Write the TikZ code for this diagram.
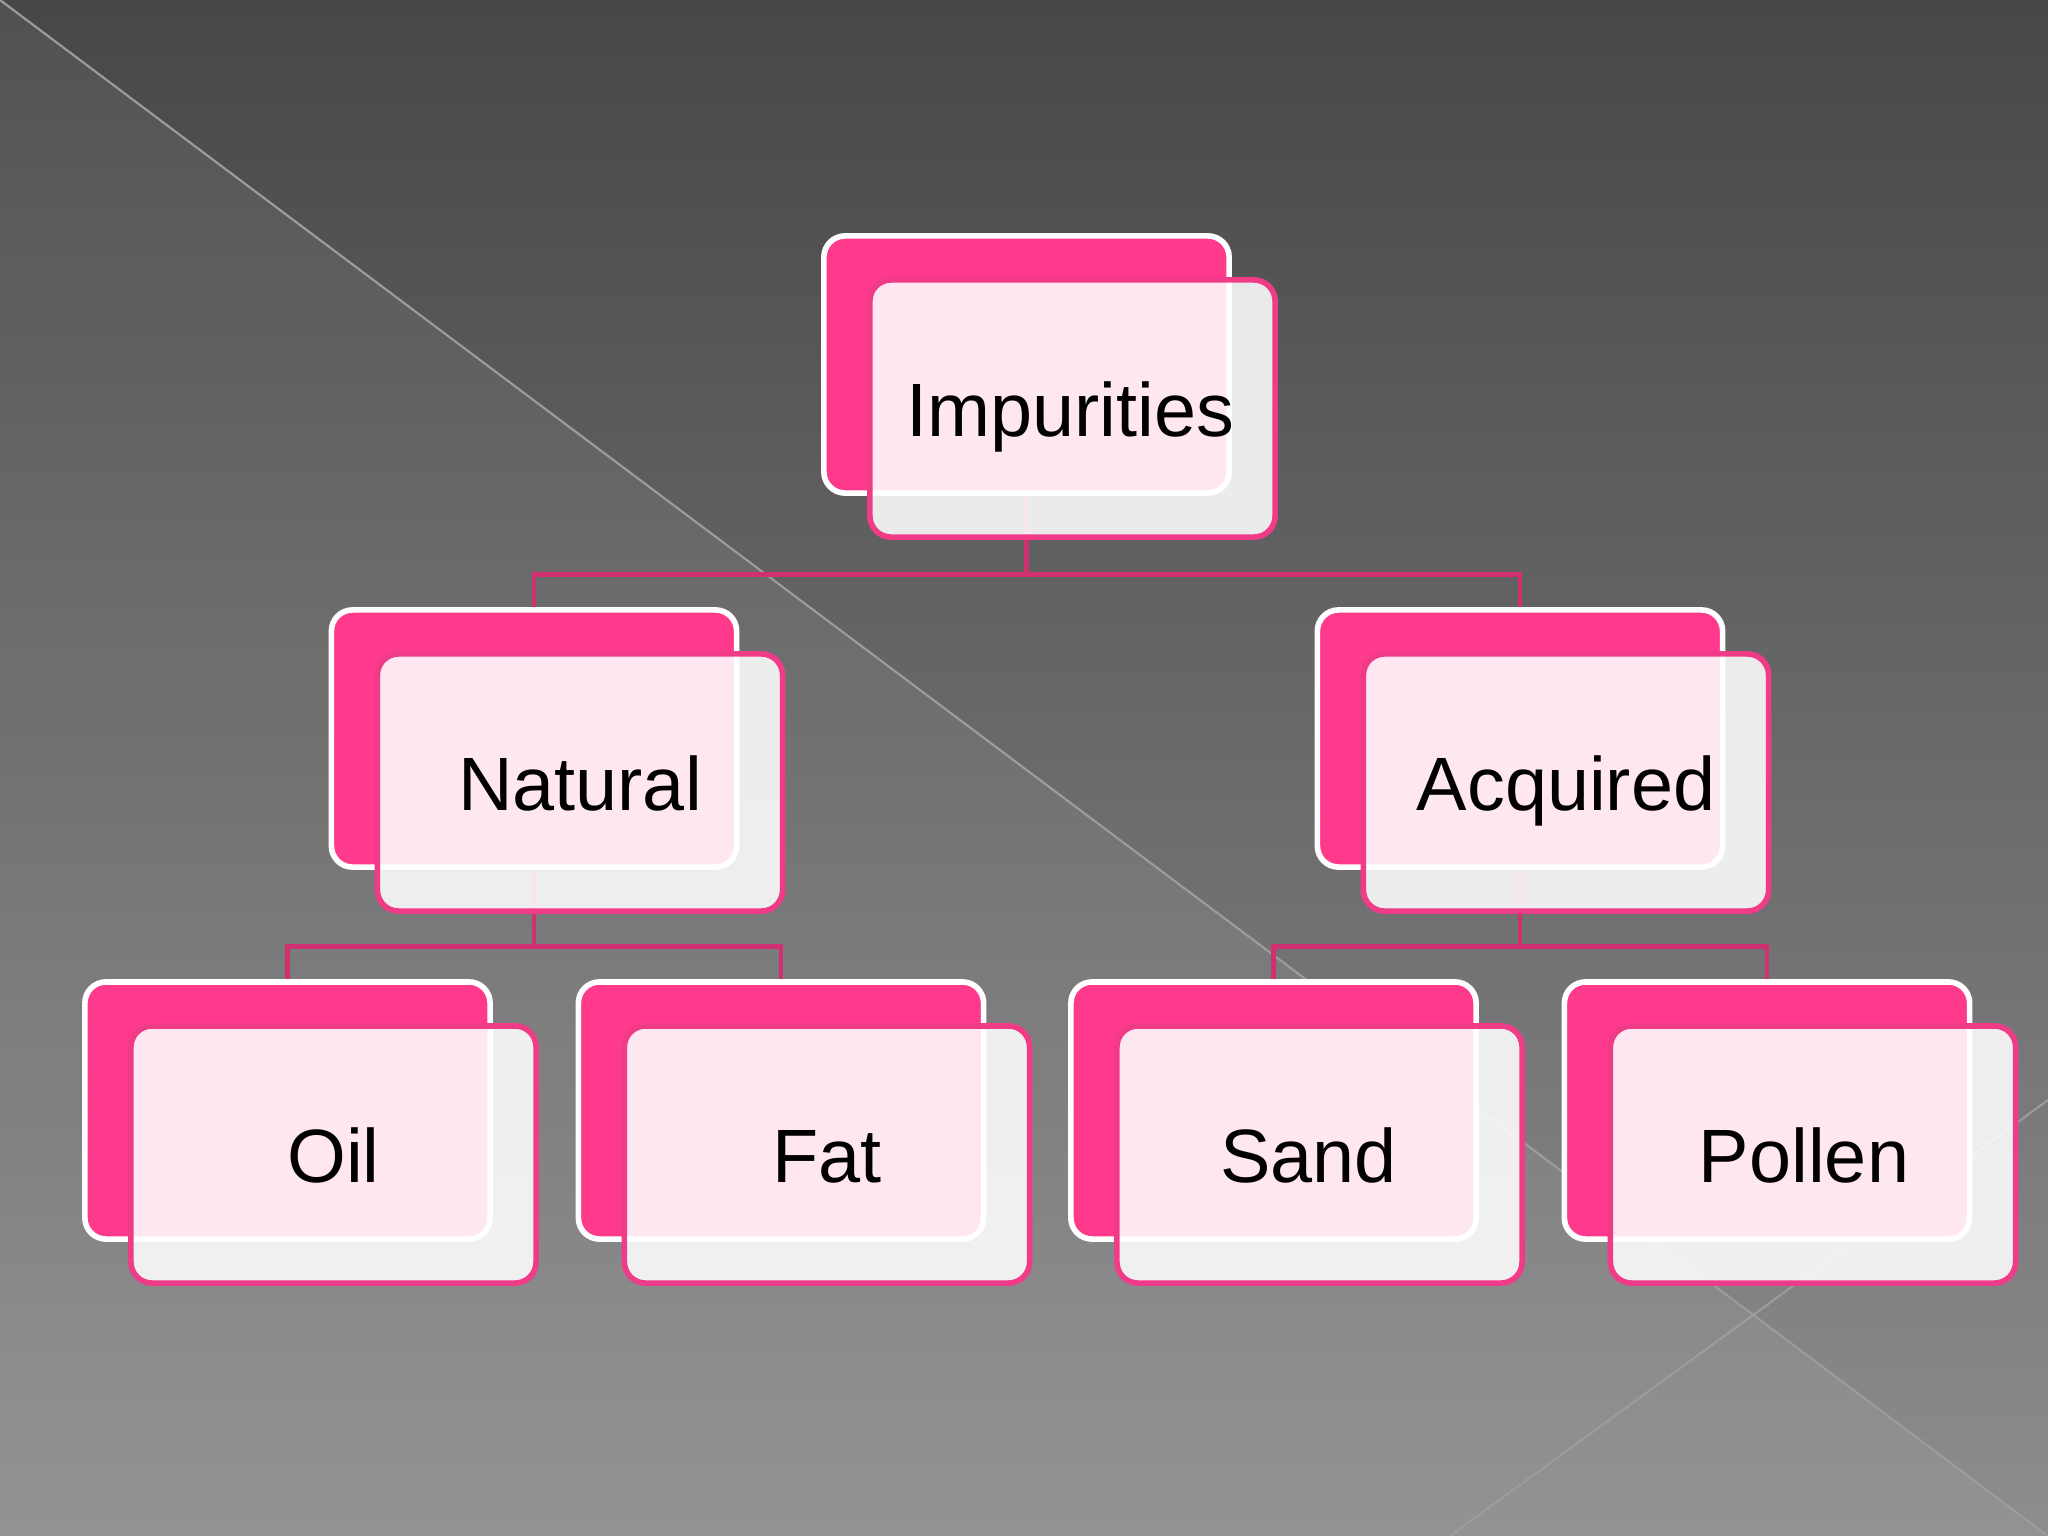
\documentclass[tikz,border=0pt]{standalone}
\usepackage{fontspec}
\setmainfont{Liberation Sans}
\definecolor{bgtop}{HTML}{474747}
\definecolor{bgbot}{HTML}{8D8D8F}
\definecolor{pinkfill}{HTML}{FF3A8C}
\definecolor{pinkline}{HTML}{F03C88}
\definecolor{connpink}{HTML}{D0306F}
\definecolor{diagline}{HTML}{9C9C9C}
\begin{document}
\begin{tikzpicture}[x=0.01cm,y=-0.01cm,
  backbox/.style={draw=white, line width=1.6pt, fill=pinkfill, rounded corners=6pt,
    minimum width=4.05cm, minimum height=2.57cm, inner sep=0pt},
  frontbox/.style={draw=pinkline, line width=1.6pt, fill=white, fill opacity=0.88, text opacity=1,
    rounded corners=6pt, minimum width=4.05cm, minimum height=2.57cm, inner sep=0pt,
    text height=0.56cm, text depth=0cm,
    font=\fontsize{21.5}{25}\selectfont, text=black},
  conn/.style={draw=connpink, line width=1.4pt}]
\useasboundingbox (0,0) rectangle (2048,1536);
% background
\shade[top color=bgtop, bottom color=bgbot] (0,0) rectangle (2048,1536);
\fill[white, opacity=0.06] (0,0) -- (2048,1536) -- (0,1536) -- cycle;
\draw[diagline, line width=0.6pt] (0,0) -- (2048,1536);
\draw[diagline, line width=0.6pt] (1450,1536) -- (2048,1100);
% back boxes
\node[backbox] (impb) at (1026.5,364.5) {};
\node[backbox] (natb) at (534,738.5) {};
\node[backbox] (acqb) at (1520,738.5) {};
\node[backbox] (oilb) at (287.5,1110.5) {};
\node[backbox] (fatb) at (781,1110.5) {};
\node[backbox] (sanb) at (1273.5,1110.5) {};
\node[backbox] (polb) at (1767,1110.5) {};
% connectors
\draw[conn] (impb.south) -- ++(0,79) -| (natb.north);
\draw[conn] (impb.south) -- ++(0,79) -| (acqb.north);
\draw[conn] (natb.south) -- ++(0,77) -| (oilb.north);
\draw[conn] (natb.south) -- ++(0,77) -| (fatb.north);
\draw[conn] (acqb.south) -- ++(0,77) -| (sanb.north);
\draw[conn] (acqb.south) -- ++(0,77) -| (polb.north);
% front boxes
\node[frontbox] (impf) at (1072.5,408.5) {\hspace*{-0.04cm}Impurities};
\node[frontbox] (natf) at (580,782.5) {Natural};
\node[frontbox] (acqf) at (1566,782.5) {Acquired};
\node[frontbox] (oilf) at (333.5,1154.5) {Oil};
\node[frontbox] (fatf) at (827,1154.5) {Fat};
\node[frontbox] (sanf) at (1319.5,1154.5) {\hspace*{-0.22cm}Sand};
\node[frontbox] (polf) at (1813,1154.5) {\hspace*{-0.18cm}Pollen};
\end{tikzpicture}
\end{document}
